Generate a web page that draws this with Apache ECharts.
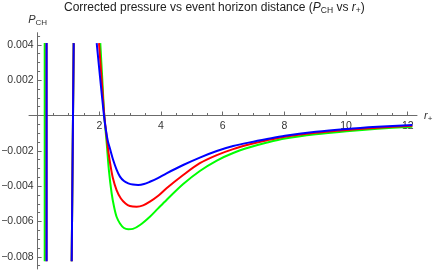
<!DOCTYPE html>
<html><head><meta charset="utf-8">
<script src="https://cdn.jsdelivr.net/npm/echarts@6/dist/echarts.min.js"></script>
<style>html,body{margin:0;padding:0;background:#fff}#c{width:436px;height:273px}</style>
</head><body><div id="c"></div>
<script>
// ---- tick values ----
const xMajorTicks = [2, 4, 6, 8, 10, 12];
const xMinorTicks = [0.5, 1, 1.5, 2.5, 3, 3.5, 4.5, 5, 5.5, 6.5, 7, 7.5, 8.5, 9, 9.5, 10.5, 11, 11.5];
const yMajorTicks = [-0.008, -0.006, -0.004, -0.002, 0.002, 0.004];
const yMinorTicks = [-0.0085, -0.0075, -0.007, -0.0065, -0.0055, -0.005, -0.0045, -0.0035, -0.003, -0.0025,
  -0.0015, -0.001, -0.0005, 0.0005, 0.001, 0.0015, 0.0025, 0.003, 0.0035, 0.0045];

// ---- series values (null separates branches) ----
const greenX = [0.23, 0.23, null, 1.105, 1.137, 1.17, null,
  2.032, 2.097, 2.162, 2.24, 2.31, 2.40, 2.48, 2.56, 2.67, 2.80, 2.94, 3.09, 3.32, 3.64, 3.90, 4.18, 4.72,
  5.26, 5.81, 6.34, 6.88, 7.44, 8.02, 9.02, 10.02, 11.02, 12.15];
const greenY = [-0.00825, 0.0041, null, -0.00825, -0.002, 0.0041, null,
  0.0041, 0.00207, 0, -0.00156, -0.00308, -0.0044, -0.00518, -0.00573, -0.00611, -0.00637, -0.00644, -0.00642,
  -0.0062, -0.00573, -0.00527, -0.00478, -0.00388, -0.00314, -0.00255, -0.00212, -0.0018, -0.00153, -0.0013,
  -0.00106, -0.00089, -0.00075, -0.00063];

const redX = [0.29, 0.29, null, 1.105, 1.137, 1.17, null,
  1.99, 2.075, 2.162, 2.24, 2.30, 2.36, 2.44, 2.56, 2.70, 2.85, 2.99, 3.21, 3.42, 3.64, 3.90, 4.18, 4.72,
  5.26, 5.81, 6.34, 6.88, 7.44, 8.02, 9.02, 10.02, 11.02, 12.15];
const redY = [-0.00825, 0.0041, null, -0.00825, -0.002, 0.0041, null,
  0.0041, 0.00207, 0, -0.00122, -0.00212, -0.0028, -0.00354, -0.00422, -0.0047, -0.00498, -0.00512, -0.00516,
  -0.00509, -0.00488, -0.00456, -0.00412, -0.00337, -0.0027, -0.00224, -0.0019, -0.00163, -0.0014, -0.0012,
  -0.00098, -0.00082, -0.00069, -0.00058];

const blueX = [0.292, 0.292, null, 1.105, 1.137, 1.17, null,
  1.916, 2.03, 2.152, 2.22, 2.28, 2.35, 2.45, 2.56, 2.67, 2.80, 2.94, 3.09, 3.26, 3.45, 3.64, 3.90, 4.18, 4.72,
  5.26, 5.81, 6.34, 6.88, 7.44, 8.02, 9.02, 10.02, 11.02, 12.15];
const blueY = [-0.00825, 0.0041, null, -0.00825, -0.002, 0.0041, null,
  0.0041, 0.00207, 0, -0.00088, -0.00147, -0.0019, -0.00252, -0.00306, -0.00346, -0.00371, -0.00384, -0.00391,
  -0.00393, -0.00388, -0.00375, -0.00354, -0.00327, -0.0028, -0.00238, -0.00201, -0.00173, -0.00152, -0.00133,
  -0.00115, -0.00092, -0.00076, -0.00064, -0.00053];

function pairs(xs, ys) {
  return xs.map((x, i) => x === null ? [NaN, '-'] : [x, ys[i]]);
}

const FONT = 'Liberation Sans, Arial, sans-serif';
const AX = '#6b6b6b';
const TXT = '#333';
const X_MIN = -0.279, X_MAX = 12.3, Y_MIN = -0.00869, Y_MAX = 0.00469;
const G = { left: 29, right: 19, top: 32.7, bottom: 4 };
const W = 436, H = 273;
const gw = W - G.left - G.right, gh = H - G.top - G.bottom;
// place axis lines where the other axis is zero (same as onZero)
const yAxisOffset = -((0 - X_MIN) / (X_MAX - X_MIN) * gw);
const xAxisOffset = -((0 - Y_MIN) / (Y_MAX - Y_MIN) * gh);

const chart = echarts.init(document.getElementById('c'), null, { renderer: 'canvas' });
const lineSeries = (data, color) => ({
  type: 'line', data, xAxisIndex: 0, yAxisIndex: 0, showSymbol: false, symbol: 'none',
  smooth: 0.3, connectNulls: false, clip: true, silent: true, animation: false,
  lineStyle: { color, width: 2 }
});
const subRich = (size) => ({
  i: { fontFamily: FONT, fontSize: size, fontStyle: 'italic', color: TXT, lineHeight: 14 },
  s: { fontFamily: FONT, fontSize: size - 3, color: TXT, verticalAlign: 'bottom', lineHeight: 9 }
});

chart.setOption({
  animation: false,
  backgroundColor: '#fff',
  title: {
    text: 'Corrected pressure vs event horizon distance ({i|P}{s|CH} vs {i|r}{s|+})',
    left: 64, top: 0, padding: 0,
    textStyle: {
      fontFamily: FONT, fontSize: 12, fontWeight: 'normal', color: '#222',
      rich: {
        i: { fontFamily: FONT, fontSize: 12, fontStyle: 'italic', color: '#222', lineHeight: 15 },
        s: { fontFamily: FONT, fontSize: 8.5, color: '#222', verticalAlign: 'bottom', lineHeight: 10 }
      }
    }
  },
  grid: { left: G.left, right: G.right, top: G.top, bottom: G.bottom, containLabel: false, outerBoundsMode: 'none' },
  xAxis: [{
    type: 'value', min: X_MIN, max: X_MAX, position: 'bottom', offset: xAxisOffset,
    name: '{i|r}{s|+}', nameLocation: 'end', nameGap: 7,
    nameTextStyle: { fontFamily: FONT, color: TXT, rich: subRich(11) },
    axisLine: { show: true, onZero: false, lineStyle: { color: AX, width: 1 } },
    axisTick: { show: true, inside: true, length: 4, customValues: xMajorTicks, lineStyle: { color: AX } },
    axisLabel: { show: true, customValues: xMajorTicks, margin: 5, fontFamily: FONT, fontSize: 10.5, color: TXT,
      formatter: v => String(v) },
    splitLine: { show: false }, minorTick: { show: false }
  }, {
    type: 'value', min: X_MIN, max: X_MAX, position: 'bottom', offset: xAxisOffset,
    axisLine: { show: false, onZero: false },
    axisTick: { show: true, inside: true, length: 2.5, customValues: xMinorTicks, lineStyle: { color: AX } },
    axisLabel: { show: false }, splitLine: { show: false }
  }],
  yAxis: [{
    type: 'value', min: Y_MIN, max: Y_MAX, position: 'left', offset: yAxisOffset,
    name: '{i|P}{s|CH}', nameLocation: 'end', nameGap: 6,
    nameTextStyle: { fontFamily: FONT, color: TXT, align: 'center', rich: subRich(11) },
    axisLine: { show: true, onZero: false, lineStyle: { color: AX, width: 1 } },
    axisTick: { show: true, inside: true, length: 4, customValues: yMajorTicks, lineStyle: { color: AX } },
    axisLabel: { show: true, customValues: yMajorTicks, margin: 4, fontFamily: FONT, fontSize: 10.5, color: TXT,
      formatter: v => (v < 0 ? '\u2212' : '') + Math.abs(v).toFixed(3) },
    splitLine: { show: false }, minorTick: { show: false }
  }, {
    type: 'value', min: Y_MIN, max: Y_MAX, position: 'left', offset: yAxisOffset,
    axisLine: { show: false, onZero: false },
    axisTick: { show: true, inside: true, length: 2.5, customValues: yMinorTicks, lineStyle: { color: AX } },
    axisLabel: { show: false }, splitLine: { show: false }
  }],
  series: [
    lineSeries(pairs(greenX, greenY), '#00ff00'),
    lineSeries(pairs(redX, redY), '#ff0000'),
    lineSeries(pairs(blueX, blueY), '#0000ff')
  ]
});
</script>
</body></html>
